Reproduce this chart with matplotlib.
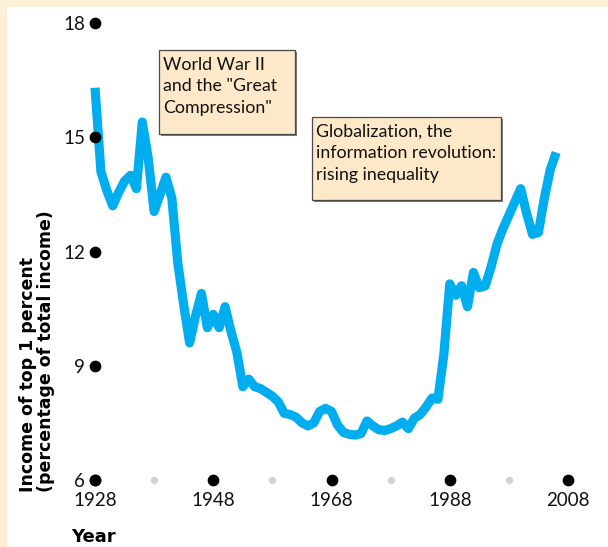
import matplotlib
matplotlib.use("Agg")
import matplotlib.pyplot as plt
from matplotlib.patches import Rectangle

# share of total income going to the top 1 percent, yearly
years = list(range(1928, 2007))
top1_share = [
    16.3, 14.1, 13.6, 13.2, 13.55, 13.85, 14.0, 13.65, 15.4, 14.45,  # 1928-37
    13.05, 13.5, 13.95, 13.4, 11.7, 10.6, 9.6, 10.3, 10.9, 10.0,     # 1938-47
    10.35, 10.0, 10.55, 9.9, 9.35, 8.45, 8.65, 8.45, 8.4, 8.3,       # 1948-57
    8.2, 8.05, 7.75, 7.72, 7.65, 7.5, 7.42, 7.5, 7.8, 7.88,          # 1958-67
    7.8, 7.45, 7.25, 7.2, 7.18, 7.22, 7.55, 7.42, 7.32, 7.3,         # 1968-77
    7.35, 7.42, 7.52, 7.35, 7.62, 7.72, 7.92, 8.15, 8.12, 9.3,       # 1978-87
    11.15, 10.85, 11.1, 10.55, 11.45, 11.05, 11.1, 11.6, 12.2, 12.6, # 1988-97
    12.95, 13.3, 13.65, 13.0, 12.45, 12.5, 13.4, 14.15, 14.6,        # 1998-2006
]

x_major = [1928, 1948, 1968, 1988, 2008]
x_minor = [1938, 1958, 1978, 1998]
y_major = [6, 9, 12, 15, 18]

notes = [
    'World War II\nand the "Great\nCompression"',
    "Globalization, the\ninformation revolution:\nrising inequality",
]

CREAM = "#fdefd6"
BOX = "#fde9c9"
BLUE = "#00adef"
W, H = 608, 547

plt.rcParams["font.family"] = ["Lato", "DejaVu Sans"]

fig = plt.figure(figsize=(W / 100, H / 100), dpi=100, facecolor=CREAM)
# white panel inside the cream frame
fig.add_artist(Rectangle((7 / W, 0), 1, 1 - 7 / H, transform=fig.transFigure,
                         facecolor="white", edgecolor="none", zorder=0))

ax = fig.add_axes([95 / W, 67 / H, 473 / W, 457 / H])
ax.set_facecolor("none")
ax.set_xlim(1928, 2008)
ax.set_ylim(6, 18)
for s in ax.spines.values():
    s.set_visible(False)

ax.plot(years, top1_share, color=BLUE, lw=6.6, solid_joinstyle="round",
        solid_capstyle="butt", clip_on=False, zorder=3)

# dots in place of tick marks
ax.scatter([1928] * len(y_major), y_major, s=55, color="black", clip_on=False, zorder=4)
ax.scatter(x_major, [6] * len(x_major), s=55, color="black", clip_on=False, zorder=4)
ax.scatter(x_minor, [6] * len(x_minor), s=18, color="#d8d0d8", clip_on=False, zorder=4)

ax.set_xticks(x_major)
ax.set_xticklabels([str(v) for v in x_major])
ax.set_yticks(y_major)
ax.set_yticklabels([str(v) for v in y_major])
ax.tick_params(axis="both", length=0, labelsize=13.5, colors="#111111")
ax.tick_params(axis="x", pad=9)
ax.tick_params(axis="y", pad=7)

fig.text(93 / W, 1 - 537 / H, "Year", fontsize=13, fontweight="bold",
         family="DejaVu Sans", ha="center", va="center")
fig.text(37 / W, 1 - 492 / H, "Income of top 1 percent\n(percentage of total income)",
         fontsize=12.5, fontweight="bold", family="DejaVu Sans", rotation=90,
         ha="center", va="bottom", multialignment="left", linespacing=1.0)


def note_box(x0, y0, x1, y1, text):
    # light shadow, then the box, then the text (pixel coords from top-left)
    fig.add_artist(Rectangle(((x0 + 1.5) / W, 1 - (y1 + 1.5) / H), (x1 - x0) / W,
                             (y1 - y0) / H, transform=fig.transFigure,
                             facecolor="#7a7a7a", edgecolor="none", zorder=5))
    fig.add_artist(Rectangle((x0 / W, 1 - y1 / H), (x1 - x0) / W, (y1 - y0) / H,
                             transform=fig.transFigure, facecolor=BOX,
                             edgecolor="#4a4a4a", lw=0.9, zorder=6))
    fig.text((x0 + 4) / W, 1 - (y0 + 7) / H, text, fontsize=12.8, color="#111111",
             ha="left", va="top", linespacing=1.42, zorder=7)


note_box(159, 50, 295, 134, notes[0])
note_box(312, 117, 501, 200, notes[1])

fig.savefig("out.png", dpi=100, facecolor=CREAM)
